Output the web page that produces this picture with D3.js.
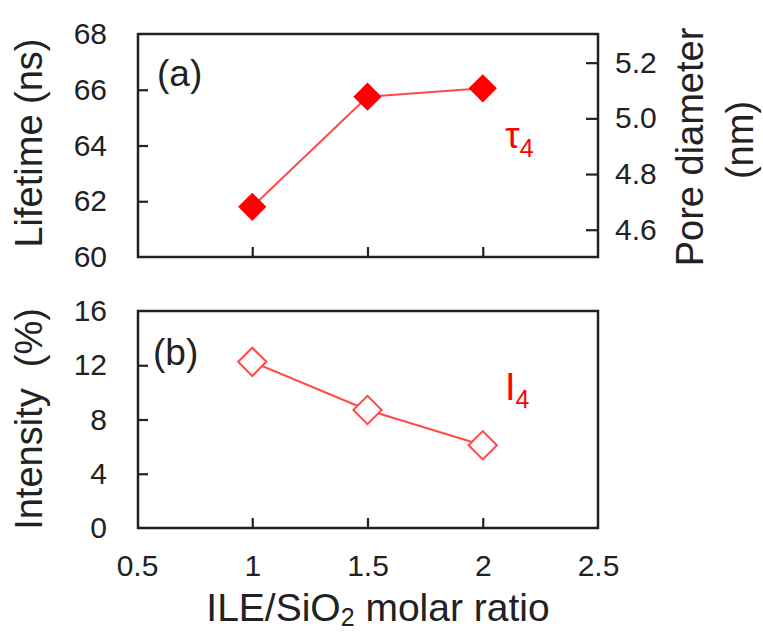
<!DOCTYPE html>
<html>
<head>
<meta charset="utf-8">
<script src="https://cdn.jsdelivr.net/npm/d3@7"></script>
<style>
  body { margin: 0; background: #fff; }
  svg text { font-family: "Liberation Sans", Arial, sans-serif; fill: #222; }
</style>
</head>
<body>
<div id="chart"></div>
<script>
// data
var ratio = [1, 1.5, 2];
var lifetime = [61.8, 65.75, 66.05];     // ns, panel (a)
var intensity = [12.25, 8.7, 6.1];       // %, panel (b)
var xTickVals = [0.5, 1, 1.5, 2, 2.5];
var lifeTicks = [60, 62, 64, 66, 68];
var poreTicks = [4.6, 4.8, 5.0, 5.2];
var intTicks = [0, 4, 8, 12, 16];

var svgWidth = 763, svgHeight = 634;
var left = 138, right = 598;
var topA = 34, botA = 257;
var topB = 311, botB = 528;
var red = "#ff0000", lineRed = "#ff4a4a", ink = "#222";

var svg = d3.select("#chart").append("svg")
    .attr("width", svgWidth)
    .attr("height", svgHeight);

var x = d3.scaleLinear().domain([0.5, 2.5]).range([137, 598]);
var yA = d3.scaleLinear().domain([60, 68]).range([botA, topA]);
var yPore = d3.scaleLinear().domain([4.502, 5.303]).range([botA, topA]);
var yB = d3.scaleLinear().domain([0, 16]).range([botB, topB]);

function styleAxis(g) {
    g.select(".domain").remove();
    g.selectAll(".tick line").attr("stroke", ink).attr("stroke-width", 2.2);
    g.selectAll(".tick text").attr("font-size", 30).attr("fill", ink);
}

// ---- panel (a)
svg.append("g")
    .attr("transform", "translate(" + left + ",0)")
    .call(d3.axisLeft(yA).tickValues(lifeTicks).tickSize(-10).tickPadding(31))
    .call(styleAxis)
    .call(function(g) {
        g.selectAll(".tick line").filter(function(d) { return d == 60 || d == 68; }).remove();
    });

svg.append("g")
    .attr("transform", "translate(" + right + ",0)")
    .call(d3.axisRight(yPore).tickValues(poreTicks).tickSizeInner(-12).tickPadding(17)
        .tickFormat(d3.format(".1f")))
    .call(styleAxis);

svg.append("g")
    .attr("transform", "translate(0," + botA + ")")
    .call(d3.axisBottom(x).tickValues([1, 1.5, 2]).tickSize(-10).tickFormat(""))
    .call(styleAxis);

svg.append("rect")
    .attr("x", left).attr("y", topA)
    .attr("width", right - left).attr("height", botA - topA)
    .attr("fill", "none").attr("stroke", ink).attr("stroke-width", 2.5);

var lineA = d3.line()
    .x(function(d, i) { return x(ratio[i]); })
    .y(function(d) { return yA(d); });

svg.append("path")
    .datum(lifetime)
    .attr("fill", "none")
    .attr("stroke", lineRed)
    .attr("stroke-width", 2)
    .attr("d", lineA);

var diamond = d3.symbol().type(d3.symbolSquare).size(400);

svg.selectAll(".ptA")
    .data(lifetime)
    .enter().append("path")
    .attr("class", "ptA")
    .attr("d", diamond)
    .attr("transform", function(d, i) {
        return "translate(" + x(ratio[i]) + "," + yA(d) + ") rotate(45)";
    })
    .attr("fill", red);

svg.append("text").attr("x", 157).attr("y", 86).attr("font-size", 37).text("(a)");

var tau = svg.append("text").attr("x", 505).attr("y", 148).attr("font-size", 37).style("fill", red);
tau.append("tspan").text("τ");
tau.append("tspan").attr("font-size", 25).attr("dy", 9).text("4");

// ---- panel (b)
svg.append("g")
    .attr("transform", "translate(" + left + ",0)")
    .call(d3.axisLeft(yB).tickValues(intTicks).tickSize(-10).tickPadding(31))
    .call(styleAxis)
    .call(function(g) {
        g.selectAll(".tick line").filter(function(d) { return d == 0 || d == 16; }).remove();
    });

svg.append("g")
    .attr("transform", "translate(0," + botB + ")")
    .call(d3.axisBottom(x).tickValues(xTickVals).tickSize(-10).tickPadding(27)
        .tickFormat(d3.format("")))
    .call(styleAxis)
    .call(function(g) {
        g.selectAll(".tick line").filter(function(d) { return d == 0.5 || d == 2.5; }).remove();
    });

svg.append("rect")
    .attr("x", left).attr("y", topB)
    .attr("width", right - left).attr("height", botB - topB)
    .attr("fill", "none").attr("stroke", ink).attr("stroke-width", 2.5);

var lineB = d3.line()
    .x(function(d, i) { return x(ratio[i]); })
    .y(function(d) { return yB(d); });

svg.append("path")
    .datum(intensity)
    .attr("fill", "none")
    .attr("stroke", lineRed)
    .attr("stroke-width", 2)
    .attr("d", lineB);

svg.selectAll(".ptB")
    .data(intensity)
    .enter().append("path")
    .attr("class", "ptB")
    .attr("d", diamond)
    .attr("transform", function(d, i) {
        return "translate(" + x(ratio[i]) + "," + yB(d) + ") rotate(45)";
    })
    .attr("fill", "#fff")
    .attr("stroke", lineRed)
    .attr("stroke-width", 2);

svg.append("text").attr("x", 153).attr("y", 365).attr("font-size", 37).text("(b)");

var iLab = svg.append("text").attr("x", 505).attr("y", 400).attr("font-size", 38).style("fill", red);
iLab.append("tspan").text("I");
iLab.append("tspan").attr("font-size", 25).attr("dy", 8).text("4");

// ---- axis titles
svg.append("text")
    .attr("transform", "translate(42,143) rotate(-90)")
    .attr("text-anchor", "middle").attr("font-size", 38)
    .text("Lifetime (ns)");

svg.append("text")
    .attr("transform", "translate(42,419) rotate(-90)")
    .attr("text-anchor", "middle").attr("font-size", 38)
    .attr("xml:space", "preserve")
    .text("Intensity  (%)");

svg.append("text")
    .attr("transform", "translate(703,147) rotate(-90)")
    .attr("text-anchor", "middle").attr("font-size", 38)
    .text("Pore diameter");

svg.append("text")
    .attr("transform", "translate(753,140) rotate(-90)")
    .attr("text-anchor", "middle").attr("font-size", 38)
    .text("(nm)");

var xt = svg.append("text")
    .attr("x", 378).attr("y", 621)
    .attr("text-anchor", "middle").attr("font-size", 39);
xt.append("tspan").text("ILE/SiO");
xt.append("tspan").attr("font-size", 25).attr("dy", 5).text("2");
xt.append("tspan").attr("dy", -5).text(" molar ratio");
</script>
</body>
</html>
